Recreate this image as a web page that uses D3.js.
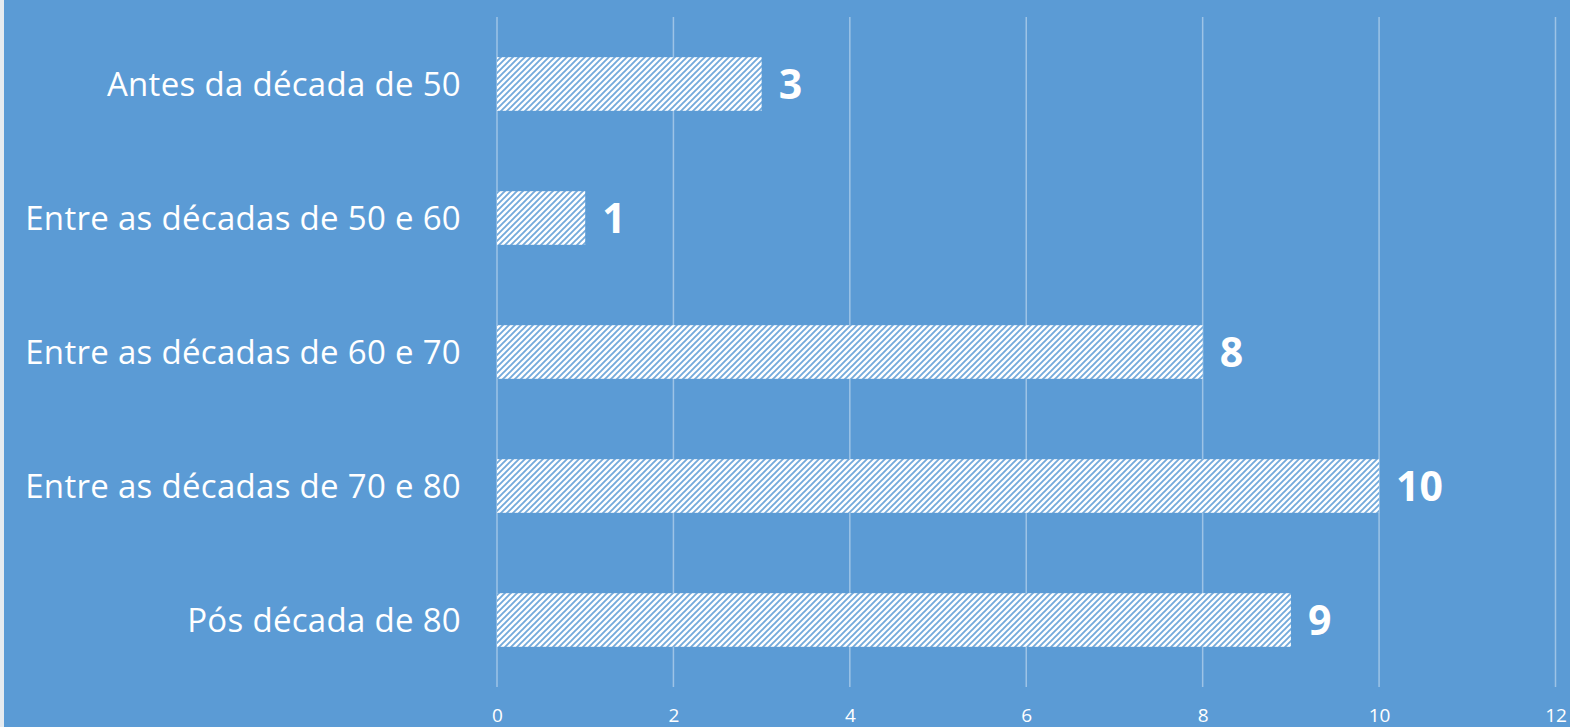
<!DOCTYPE html>
<html><head><meta charset="utf-8">
<script src="https://cdn.jsdelivr.net/npm/d3@7"></script>
<style>html,body{margin:0;padding:0;background:#fff;overflow:hidden}</style>
</head><body>
<script>
const categories = ["Antes da década de 50","Entre as décadas de 50 e 60","Entre as décadas de 60 e 70","Entre as décadas de 70 e 80","Pós década de 80"];
const values = [3,1,8,10,9];
const tickValues = [0,2,4,6,8,10,12];

const W = 1570, H = 727;
const svg = d3.select("body").append("svg").attr("width", W).attr("height", H);
svg.append("rect").attr("width", W).attr("height", H).attr("fill", "#5b9bd5");
svg.append("rect").attr("x",0).attr("y",0).attr("width",4).attr("height",H).attr("fill","#e6ebf0");

const defs = svg.append("defs");
const pat = defs.append("pattern").attr("id","hatch").attr("patternUnits","userSpaceOnUse")
  .attr("width",6).attr("height",6);
pat.append("rect").attr("width",6).attr("height",6).attr("fill","#ffffff");
pat.append("path").attr("d","M-1,1 l2,-2 M0,6 l6,-6 M5,7 l2,-2")
  .attr("stroke","#5b9bd5").attr("stroke-width",1.9).attr("opacity",0.85);

const x = d3.scaleLinear().domain([0,12]).range([497,1555.5]);
const y = d3.scaleBand().domain(categories).range([17,687]).paddingInner(0.6).paddingOuter(0.3);

const font = "'Open Sans', Lato, sans-serif";

// gridlines
svg.append("g").selectAll("line").data(tickValues).join("line")
  .attr("x1",d=>x(d)).attr("x2",d=>x(d)).attr("y1",17).attr("y2",687)
  .attr("stroke","#9dc3e6").attr("stroke-width",1.5);

// x tick labels
const xAxis = d3.axisBottom(x).tickValues(tickValues).tickSize(0).tickPadding(0);
const gx = svg.append("g").attr("transform","translate(0,706)").call(xAxis);
gx.select(".domain").remove();
gx.selectAll("text").attr("fill","#ffffff").attr("font-family",font)
  .attr("font-size",19).attr("dy","0.85em");

// y labels
const yAxis = d3.axisLeft(y).tickSize(0).tickPadding(0);
const gy = svg.append("g").attr("transform","translate(461,0)").call(yAxis);
gy.select(".domain").remove();
gy.selectAll("text").attr("fill","#ffffff").attr("font-family",font)
  .attr("font-size",33).attr("letter-spacing","0.3px").attr("dy","0.35em");

// bars
svg.append("g").selectAll("rect").data(values).join("rect")
  .attr("x",x(0)).attr("y",(d,i)=>y(categories[i]))
  .attr("width",d=>x(d)-x(0)).attr("height",y.bandwidth())
  .attr("fill","url(#hatch)");

// value labels
svg.append("g").selectAll("text").data(values).join("text")
  .attr("x",d=>x(d)+17).attr("y",(d,i)=>y(categories[i])+y.bandwidth()/2)
  .attr("dy","0.37em").attr("fill","#ffffff").attr("font-weight","bold")
  .attr("font-family",font).attr("font-size",41)
  .text(d=>d);
</script>
</body></html>
